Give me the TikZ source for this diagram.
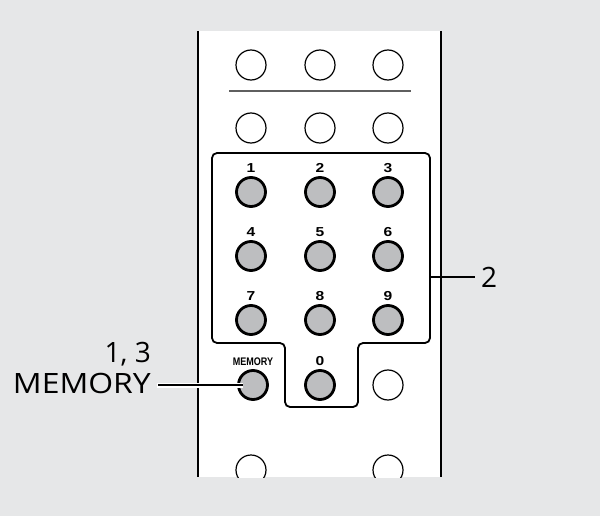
\documentclass[tikz,border=0pt]{standalone}
\usepackage{fontspec}
\setmainfont{Open Sans}
\newfontfamily\keyfont{Liberation Sans}
\usetikzlibrary{positioning}
\definecolor{bggray}{RGB}{230,231,232}
\definecolor{keygray}{RGB}{189,190,192}
\definecolor{rulegray}{RGB}{95,95,95}
\tikzstyle{callout} = [font=\fontsize{28}{31}\selectfont, inner sep=0pt]

\begin{document}
\begin{tikzpicture}[x=1pt,y=-1pt,node distance=3pt]
			\tikzstyle{plainkey} = [circle, draw=black, line width=1.2pt, fill=white, minimum size=30pt, inner sep=0pt];
			\tikzstyle{numkey} = [circle, draw=black, line width=2.8pt, fill=keygray, minimum size=29pt, inner sep=0pt];
			\tikzstyle{keylabel} = [font=\keyfont\bfseries\fontsize{13}{13}\selectfont, inner sep=0pt];
			\useasboundingbox[fill=bggray] (0,0) rectangle (600,516);
			% remote body
			\fill[white] (198,31) rectangle (441,477);
			\draw[line width=2.4pt] (198,31) -- (198,477);
			\draw[line width=2.4pt] (441,31) -- (441,477);
			\begin{scope}
				\clip (198,31) rectangle (441,477);
				\node (top1) [plainkey] at (251,65) {};
				\node (top2) [plainkey] at (320,65) {};
				\node (top3) [plainkey] at (388,65) {};
				\draw[rulegray, line width=1.4pt] (229,91) -- (411,91);
				\node (mid1) [plainkey] at (251,128) {};
				\node (mid2) [plainkey] at (320,128) {};
				\node (mid3) [plainkey] at (388,128) {};
				\node (side) [plainkey] at (388,385) {};
				\node (low1) [plainkey] at (251,470) {};
				\node (low2) [plainkey] at (388,470) {};
			\end{scope}
			% numeric keypad
			\draw[line width=1.8pt, rounded corners=5pt] (212,153) -- (430,153) -- (430,343) -- (358,343) -- (358,407) -- (285,407) -- (285,343) -- (212,343) -- cycle;
			\coordinate (padedge) at (430,277);
			\node (key1) [numkey] at (251,192) {};
			\node (key2) [numkey] at (320,192) {};
			\node (key3) [numkey] at (388,192) {};
			\node (key4) [numkey] at (251,256) {};
			\node (key5) [numkey] at (320,256) {};
			\node (key6) [numkey] at (388,256) {};
			\node (key7) [numkey] at (251,320) {};
			\node (key8) [numkey] at (320,320) {};
			\node (key9) [numkey] at (388,320) {};
			\node (memkey) [numkey] at (253,385) {};
			\node (key0) [numkey] at (320,385) {};
			\node [keylabel, above=of key1] {\scalebox{1.2}[1]{1}};
			\node [keylabel, above=of key2] {\scalebox{1.2}[1]{2}};
			\node [keylabel, above=of key3] {\scalebox{1.2}[1]{3}};
			\node [keylabel, above=of key4] {\scalebox{1.2}[1]{4}};
			\node [keylabel, above=of key5] {\scalebox{1.2}[1]{5}};
			\node [keylabel, above=of key6] {\scalebox{1.2}[1]{6}};
			\node [keylabel, above=of key7] {\scalebox{1.2}[1]{7}};
			\node [keylabel, above=of key8] {\scalebox{1.2}[1]{8}};
			\node [keylabel, above=of key9] {\scalebox{1.2}[1]{9}};
			\node [keylabel, above=of key0] {\scalebox{1.2}[1]{0}};
			\node [keylabel, font=\keyfont\bfseries\fontsize{11}{11}\selectfont, above=of memkey] {\scalebox{0.82}[1]{MEMORY}};
			% callouts
			\node (memtext) [callout, anchor=base east] at (151,393) {\scalebox{1.14}[1]{MEMORY}};
			\node (stepnums) [callout, anchor=base east] at (151,362) {1, 3};
			\node (steptwo) [callout, anchor=west] at (481,277) {2};
			\draw[white, line width=5pt] ([xshift=6pt]memkey.center -| memtext.east) -- ([xshift=-10pt]memkey.center);
			\draw[line width=1.8pt] ([xshift=7pt]memkey.center -| memtext.east) -- ([xshift=-10pt]memkey.center);
			\draw[line width=1.8pt] (padedge) -- ([xshift=-6pt]steptwo.west);
		\end{tikzpicture}
\end{document}
